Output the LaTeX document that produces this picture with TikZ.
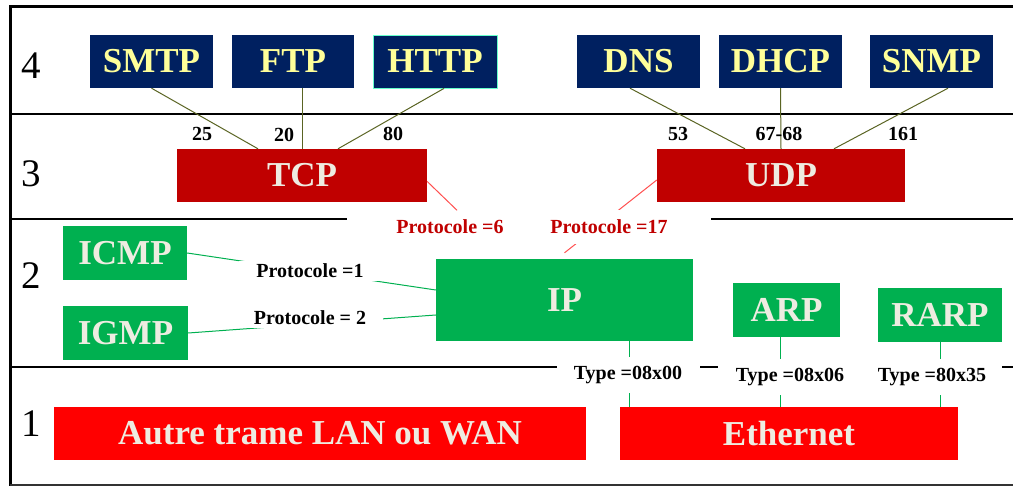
\documentclass[tikz,border=0pt]{standalone}
\usepackage{fontspec}
\setmainfont{Liberation Serif}
\definecolor{navy}{HTML}{002060}
\definecolor{lyellow}{HTML}{FFFF99}
\definecolor{dred}{HTML}{C00000}
\definecolor{pgreen}{HTML}{00B050}
\definecolor{bred}{HTML}{FF0000}
\definecolor{offwhite}{HTML}{EEECE1}
\definecolor{olive}{HTML}{5A6423}
\definecolor{lred}{HTML}{FF5050}
\definecolor{aqua}{HTML}{66FFCC}
\tikzset{
  x=1pt, y=-1pt,
  bigtxt/.style={font=\fontsize{35}{40}\selectfont\bfseries},
  smalltxt/.style={font=\fontsize{20}{23}\selectfont\bfseries},
  appbox/.style={bigtxt, fill=navy, text=lyellow, inner sep=0pt, minimum height=53pt},
  transbox/.style={bigtxt, fill=dred, text=offwhite, inner sep=0pt, minimum height=53pt},
  netbox/.style={bigtxt, fill=pgreen, text=offwhite, inner sep=0pt, minimum height=54pt},
  linkbox/.style={bigtxt, fill=bred, text=offwhite, inner sep=0pt, minimum height=53pt},
  layernum/.style={font=\fontsize{39}{42}\selectfont},
  portlbl/.style={smalltxt, inner sep=0pt},
  protolbl/.style={smalltxt, text=dred, fill=white, inner xsep=3pt, inner ysep=9.5pt},
  blacklbl/.style={smalltxt, fill=white, inner xsep=17pt, inner ysep=3pt},
  typelbl/.style={smalltxt, fill=white, inner xsep=3pt, inner ysep=9pt},
  sepline/.style={line width=2pt, black},
  portline/.style={olive, line width=1pt},
  protoline/.style={lred, line width=1pt},
  netline/.style={pgreen, line width=1pt},
}
\begin{document}
\begin{tikzpicture}
\useasboundingbox (0,0) rectangle (1013,486);
% frame
\draw[line width=3pt] (10,7) -- (1013,7);
\draw[line width=3pt] (10,5.5) -- (10,486);
\draw[line width=2pt, black!80] (10,485) -- (1013,485);
% separators
\draw[sepline] (12,114) -- (1013,114);
\draw[sepline] (12,219) -- (347,219);
\draw[sepline] (711,219) -- (1013,219);
\draw[sepline] (12,367) -- (557,367);
\draw[sepline] (700,367) -- (718,367);
\draw[sepline] (1002,367) -- (1013,367);
% layer numbers
\node[layernum] (n4) at (31,66) {4};
\node[layernum] (n3) at (31,174) {3};
\node[layernum] (n2) at (31,276) {2};
\node[layernum] (n1) at (31,424) {1};
% application boxes
\node[appbox, minimum width=123pt] (smtp) at (151.5,61.5) {SMTP};
\node[appbox, minimum width=122pt] (ftp) at (293,61.5) {FTP};
\node[appbox, minimum width=124pt, draw=aqua, line width=0.8pt] (http) at (435,61.5) {HTTP};
\node[appbox, minimum width=123pt] (dns) at (638.5,61.5) {DNS};
\node[appbox, minimum width=123pt] (dhcp) at (780.5,61.5) {DHCP};
\node[appbox, minimum width=123pt] (snmp) at (931.5,61.5) {SNMP};
% transport boxes
\node[transbox, minimum width=250pt] (tcp) at (302,175.5) {TCP};
\node[transbox, minimum width=248pt] (udp) at (781,175.5) {UDP};
% network boxes
\node[netbox, minimum width=124pt] (icmp) at (125,253) {ICMP};
\node[netbox, minimum width=125pt] (igmp) at (125.5,333) {IGMP};
\node[netbox, minimum width=257pt, minimum height=82pt] (ip) at (564.5,300) {IP};
\node[netbox, minimum width=107pt] (arp) at (786.5,310) {ARP};
\node[netbox, minimum width=124pt] (rarp) at (940,315) {RARP};
% link boxes
\node[linkbox, minimum width=532pt] (autre) at (320,433.5) {Autre trame LAN ou WAN};
\node[linkbox, minimum width=338pt] (eth) at (789,433.5) {Ethernet};
% port connectors
\draw[portline] (smtp.south) -- ([xshift=-44pt]tcp.north);
\draw[portline] ([xshift=9pt]ftp.south) -- (tcp.north);
\draw[portline] ([xshift=9pt]http.south) -- ([xshift=36pt]tcp.north);
\draw[portline] ([xshift=-8.5pt]dns.south) -- ([xshift=-36pt]udp.north);
\draw[portline] (dhcp.south) -- (udp.north);
\draw[portline] ([xshift=16.5pt]snmp.south) -- ([xshift=53pt]udp.north);
% port labels
\node[portlbl] (p25) at (202,134) {25};
\node[portlbl] (p20) at (284,135) {20};
\node[portlbl] (p80) at (393,134) {80};
\node[portlbl] (p53) at (678,134) {53};
\node[portlbl] (p67) at (779,134) {67-68};
\node[portlbl] (p161) at (903,134) {161};
% protocol connectors (drawn before labels)
\draw[protoline] ([yshift=-4.5pt]udp.west) -- ([yshift=6pt]ip.north);
\draw[netline] (icmp.east) -- ([yshift=10pt]ip.west);
\draw[netline] (igmp.east) -- ([yshift=-15pt]ip.west);
\draw[netline] ([xshift=64.5pt]ip.south) -- ([xshift=64.5pt]ip.south |- eth.north);
\draw[netline] (arp.south -| 780,0) -- (eth.north -| 780,0);
\draw[netline] (rarp.south) -- (rarp.south |- eth.north);
% protocol labels
\node[protolbl] (pr6) at (450,227) {Protocole =6};
\node[protolbl] (pr17) at (609,227) {Protocole =17};
\draw[protoline] ([yshift=-6pt]tcp.east) -- ([xshift=7pt]pr6.north);
\node[blacklbl] (pr1) at (310,271) {Protocole =1};
\node[blacklbl] (pr2) at (310,318) {Protocole = 2};
\node[typelbl] (t1) at (628,375) {Type =08x00};
\node[typelbl] (t2) at (790,377) {Type =08x06};
\node[typelbl] (t3) at (932,377) {Type =80x35};
\end{tikzpicture}
\end{document}
